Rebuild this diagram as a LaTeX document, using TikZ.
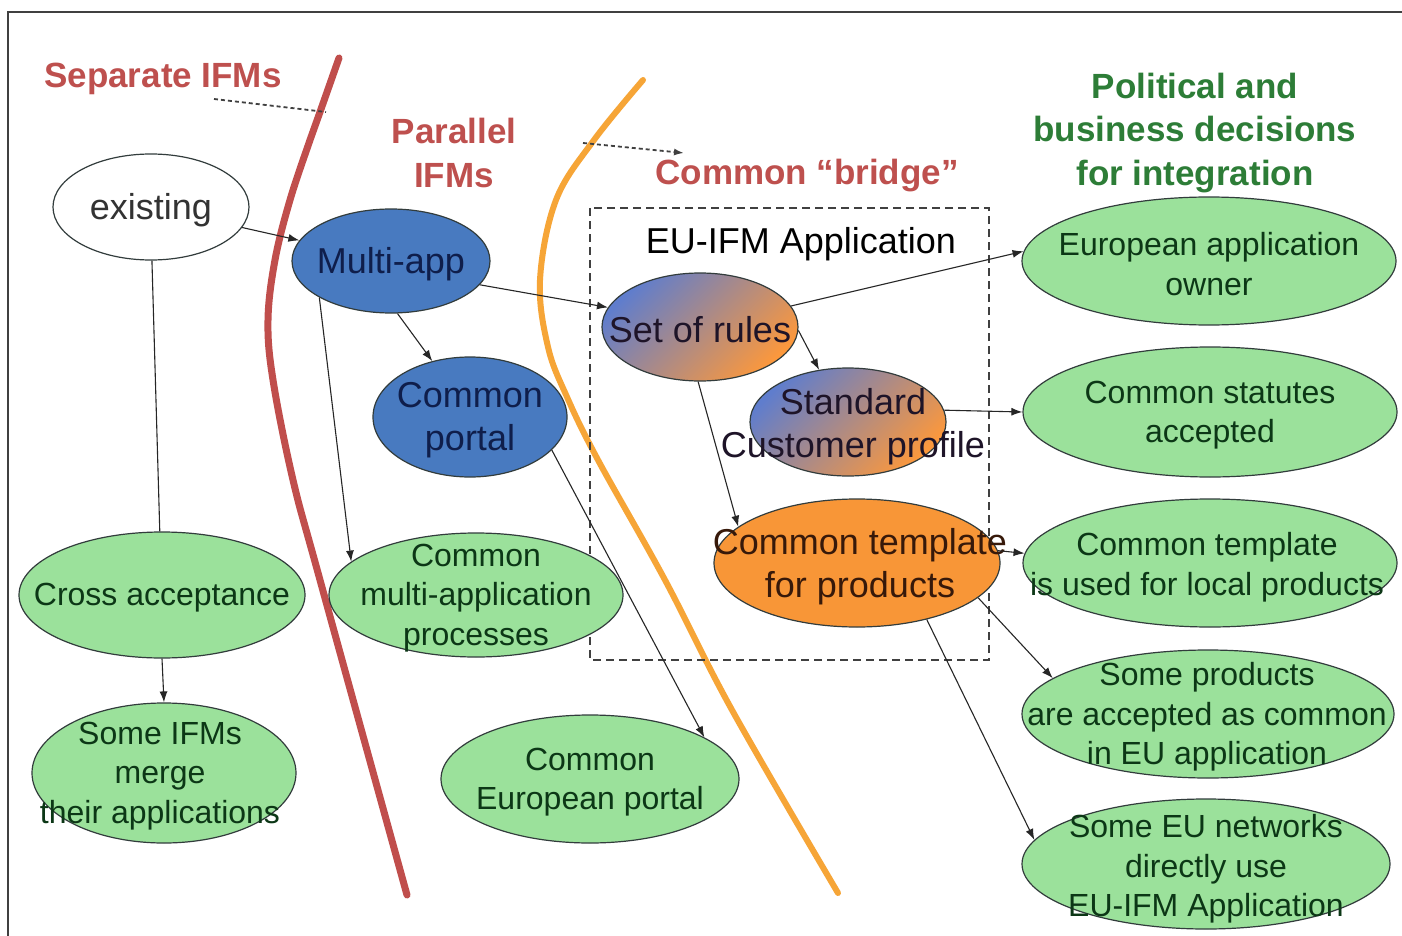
\documentclass[tikz,border=0pt]{standalone}
\usepackage{fontspec}
\setmainfont{Liberation Sans}
\usetikzlibrary{shapes.geometric,arrows.meta}
\definecolor{titlered}{RGB}{190,80,78}
\definecolor{titlegreen}{RGB}{45,125,55}
\definecolor{redline}{RGB}{192,78,76}
\definecolor{orangeline}{RGB}{246,165,55}
\definecolor{gfill}{RGB}{155,225,155}
\definecolor{bfill}{RGB}{72,122,192}
\definecolor{ofill}{RGB}{248,150,55}
\definecolor{gblue}{RGB}{95,125,205}
\definecolor{gorange}{RGB}{252,152,60}
\definecolor{edgec}{RGB}{50,60,60}
\definecolor{gtextc}{RGB}{12,55,22}
\definecolor{btextc}{RGB}{15,30,75}
\definecolor{otextc}{RGB}{55,25,10}
\definecolor{mtextc}{RGB}{30,20,40}
\begin{document}
\begin{tikzpicture}[x=1pt,y=-1pt,
  ell/.style={ellipse, draw=edgec, line width=1.2pt, inner sep=0pt},
  gnode/.style={ell, fill=gfill},
  bnode/.style={ell, fill=bfill},
  onode/.style={ell, fill=ofill},
  wnode/.style={ell, fill=white},
  mnode/.style={ell, top color=gblue, bottom color=gorange, shading angle=45},
  bigtxt/.style={align=center, inner sep=0pt, yshift=-3pt, font=\fontsize{36}{43}\selectfont},
  gtxt/.style={align=center, inner sep=0pt, yshift=-3pt, text=gtextc, font=\fontsize{32}{39.5}\selectfont},
  titletxt/.style={align=center, inner sep=0pt, font=\bfseries\fontsize{35}{43.5}\selectfont},
  conn/.style={line width=1.1pt, draw=black!85, -{Latex[length=11pt,width=8pt]}},
  plainconn/.style={line width=1.1pt, draw=black!85},
  dotconn/.style={line width=1.8pt, draw=black!75, dash pattern=on 4pt off 3pt},
]
\useasboundingbox (0,0) rectangle (1402,936);
\fill[white] (0,0) rectangle (1402,936);
\draw[line width=2pt, black!75] (8,936) -- (8,12) -- (1402,12);

% dividing curves
\draw[redline, line width=7pt, line cap=round] plot[smooth, tension=0.6] coordinates
  {(339,58) (320,112) (310,140) (290,200) (275,260) (268,320) (273,380) (293,480) (320,580) (407,895)};
\draw[orangeline, line width=6pt, line cap=round] plot[smooth, tension=0.6] coordinates
  {(643,80) (594,140) (556,200) (540,280) (548,347) (567,397) (598,460) (665,580) (732,710) (838,893)};

% dashed box
\draw[line width=2.2pt, black!75, dash pattern=on 8pt off 5pt] (590,208) rectangle (989,660);
\node[bigtxt] (euifm) at (801,241) {EU-IFM Application};

% titles
\node[titletxt, text=titlered] (tsep) at (163,79) {Separate IFMs};
\node[titletxt, text=titlered] (tpar) at (454,153) {Parallel\\IFMs};
\node[titletxt, text=titlered] (tcom) at (807,176) {Common “bridge”};
\node[titletxt, text=titlegreen] (tpol) at (1195,133) {Political and\\business decisions\\for integration};

% dotted pointers
\coordinate (sepA) at (214,99);
\coordinate (sepB) at (326,112);
\coordinate (briA) at (583,143);
\coordinate (briB) at (684,153);
\draw[dotconn] (sepA) -- (sepB);
\draw[dotconn, -{Latex[length=10pt,width=7pt]}] (briA) -- (briB);

% ellipses
\node[wnode, minimum width=196, minimum height=106] (exist) at (151,207) {};
\node[bigtxt, text=black!80] (existt) at (exist) {existing};

\node[bnode, minimum width=198, minimum height=104] (multi) at (391,261) {};
\node[bigtxt, text=btextc] (multit) at (multi) {Multi-app};

\node[bnode, minimum width=194, minimum height=120] (portal) at (470,417) {};
\node[bigtxt, text=btextc] (portalt) at (portal) {Common\\portal};

\node[mnode, minimum width=196, minimum height=108] (rules) at (700,327) {};
\node[bigtxt, text=mtextc] (rulest) at (rules) {Set of rules};

\node[mnode, minimum width=196, minimum height=108] (std) at (848,422) {};
\node[bigtxt, text=mtextc] (stdt) at (853,424) {Standard\\Customer profile};

\node[onode, minimum width=286, minimum height=128] (tmpl) at (857,563) {};
\node[bigtxt, text=otextc] (tmplt) at (860,564) {Common template\\for products};

\node[gnode, minimum width=286, minimum height=126] (cross) at (162,595) {};
\node[gtxt] (crosst) at (cross) {Cross acceptance};

\node[gnode, minimum width=264, minimum height=140] (merge) at (164,773) {};
\node[gtxt] (merget) at (160,773) {Some IFMs\\merge\\their applications};

\node[gnode, minimum width=294, minimum height=124] (cmap) at (476,595) {};
\node[gtxt] (cmapt) at (cmap) {Common\\multi-application\\processes};

\node[gnode, minimum width=298, minimum height=128] (cep) at (590,779) {};
\node[gtxt] (cept) at (cep) {Common\\European portal};

\node[gnode, minimum width=374, minimum height=128] (eao) at (1209,261) {};
\node[gtxt] (eaot) at (eao) {European application\\owner};

\node[gnode, minimum width=374, minimum height=130] (stat) at (1210,412) {};
\node[gtxt] (statt) at (stat) {Common statutes\\accepted};

\node[gnode, minimum width=374, minimum height=128] (ctu) at (1210,563) {};
\node[gtxt] (ctut) at (1207,564) {Common template\\is used for local products};

\node[gnode, minimum width=372, minimum height=128] (some) at (1208,714) {};
\node[gtxt] (somet) at (1207,714) {Some products\\are accepted as common\\in EU application};

\node[gnode, minimum width=368, minimum height=130] (eun) at (1206,864) {};
\node[gtxt] (eunt) at (1206,866) {Some EU networks\\directly use\\EU-IFM Application};

% connectors
\draw[conn] (exist) -- (multi);
\draw[plainconn] (exist.-89) -- (cross.92);
\draw[conn] (cross.-90) -- (merge.90);
\draw[conn] (multi.-83) -- (portal.124);
\draw[conn] (multi.-153) -- (cmap.165);
\draw[conn] (multi.-15) -- (rules.168);
\draw[conn] (portal.-22) -- (cep.20);
\draw[conn] (rules.13) -- (eao.177);
\draw[conn] (rules.-2) -- (std.119);
\draw[conn] (rules.-92) -- (tmpl.163);
\draw[conn] (std.7) -- (stat.180);
\draw[conn] (tmpl.5) -- (ctu.177);
\draw[conn] (tmpl.-16) -- (some.167);
\draw[conn] (tmpl.-39) -- (eun.172);
\end{tikzpicture}
\end{document}
